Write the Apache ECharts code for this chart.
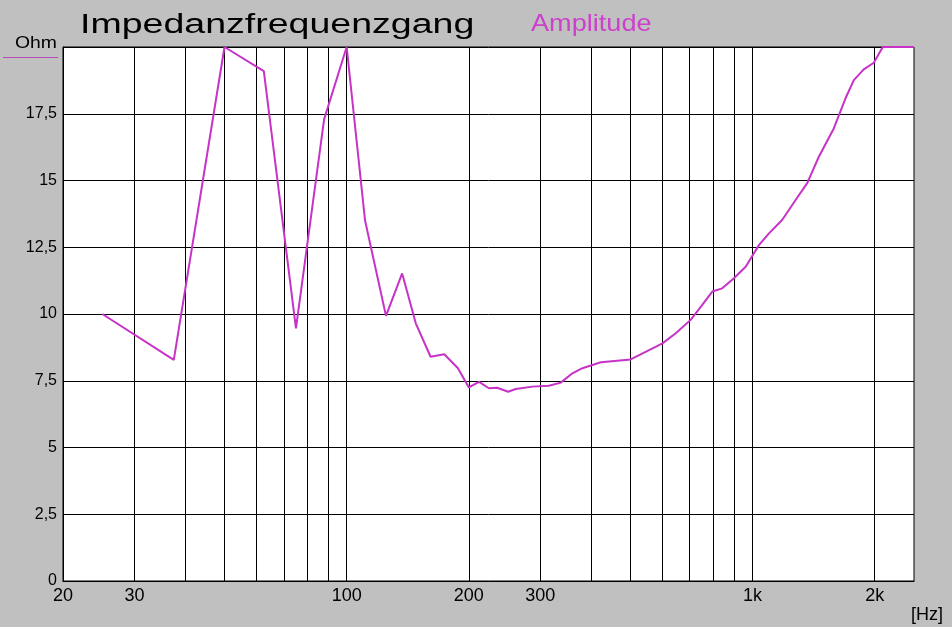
<!DOCTYPE html>
<html>
<head>
<meta charset="utf-8">
<script src="https://cdn.jsdelivr.net/npm/echarts@6/dist/echarts.min.js"></script>
<style>
html,body{margin:0;padding:0;background:#c0c0c0;}
#chart{width:952px;height:627px;}
</style>
</head>
<body>
<div id="chart"></div>
<script>
// Data
const freqHz = [25, 37.5, 50, 62.5, 75, 88, 100, 111, 125, 137, 148, 161, 174, 188, 200, 212, 224, 235, 250, 261, 287, 315, 337, 360, 381, 423, 501, 556, 600, 647, 704, 752, 796, 842, 900, 962, 1037, 1098, 1183, 1277, 1364, 1457, 1586, 1695, 1777, 1880, 1990, 2094, 2500];
const impedanceOhm = [10.0, 8.28, 20, 19.1, 9.46, 17.3, 20, 13.5, 9.93, 11.52, 9.65, 8.4, 8.49, 7.97, 7.25, 7.46, 7.22, 7.24, 7.09, 7.19, 7.28, 7.31, 7.43, 7.78, 7.97, 8.19, 8.30, 8.65, 8.90, 9.28, 9.78, 10.34, 10.84, 10.96, 11.34, 11.77, 12.58, 13.02, 13.52, 14.27, 14.9, 15.89, 16.95, 18.08, 18.76, 19.16, 19.41, 20, 20];
const xGridValues = [20, 30, 40, 50, 60, 70, 80, 90, 100, 200, 300, 400, 500, 600, 700, 800, 900, 1000, 2000];
const xLabelValues = [20, 30, 100, 200, 300, 1000, 2000];
const xLabelText = {20: '20', 30: '30', 100: '100', 200: '200', 300: '300', 1000: '1k', 2000: '2k'};
const titleText = 'Impedanzfrequenzgang';
const seriesName = 'Amplitude';
const yUnit = 'Ohm';
const xUnit = '[Hz]';

const chart = echarts.init(document.getElementById('chart'), null, {renderer: 'canvas'});
const font = 'Liberation Sans, Arial, sans-serif';
const lineColor = '#c633c6';

chart.setOption({
  backgroundColor: '#c0c0c0',
  animation: false,
  grid: {left: 63, top: 47, right: 38, bottom: 46, show: true, backgroundColor: '#ffffff', borderColor: '#000000', borderWidth: 1},
  xAxis: {
    type: 'log', logBase: 10, min: 20, max: 2500,
    axisLine: {show: true, lineStyle: {color: '#000', width: 1}},
    axisTick: {show: false, customValues: xGridValues},
    splitLine: {show: true, lineStyle: {color: '#000', width: 1}},
    minorSplitLine: {show: false},
    axisLabel: {
      customValues: xLabelValues,
      color: '#000', fontFamily: font, fontSize: 18, margin: 6,
      formatter: v => xLabelText[Math.round(v)] || String(v)
    }
  },
  yAxis: {
    type: 'value', min: 0, max: 20, interval: 2.5,
    axisLine: {show: true, lineStyle: {color: '#000', width: 1}},
    axisTick: {show: false},
    splitLine: {show: true, lineStyle: {color: '#000', width: 1}},
    axisLabel: {
      color: '#000', fontFamily: font, fontSize: 16, margin: 6,
      padding: [0, 0, 7, 0],
      formatter: v => v === 20 ? '' : String(v).replace('.', ',')
    }
  },
  series: [{
    name: seriesName,
    type: 'line',
    data: freqHz.map((f, i) => [f, impedanceOhm[i]]),
    showSymbol: false,
    lineStyle: {color: lineColor, width: 2},
    clip: true
  }],
  graphic: [
    {type: 'text', x: 80, y: 12, scaleX: 1.39, style: {text: titleText, font: '27px ' + font, fill: '#000', textVerticalAlign: 'top'}},
    {type: 'text', x: 531, y: 12, scaleX: 1.13, style: {text: seriesName, font: '24px ' + font, fill: '#cc40cc', textVerticalAlign: 'top'}},
    {type: 'text', x: 15, y: 35, scaleX: 1.14, style: {text: yUnit, font: '17px ' + font, fill: '#000', textVerticalAlign: 'top'}},
    {type: 'line', shape: {x1: 3, y1: 57.5, x2: 58, y2: 57.5}, style: {stroke: '#b84ab8', lineWidth: 1}},
    {type: 'text', x: 911, y: 606, style: {text: xUnit, font: '18px ' + font, fill: '#000', textVerticalAlign: 'top'}}
  ]
});
</script>
</body>
</html>
